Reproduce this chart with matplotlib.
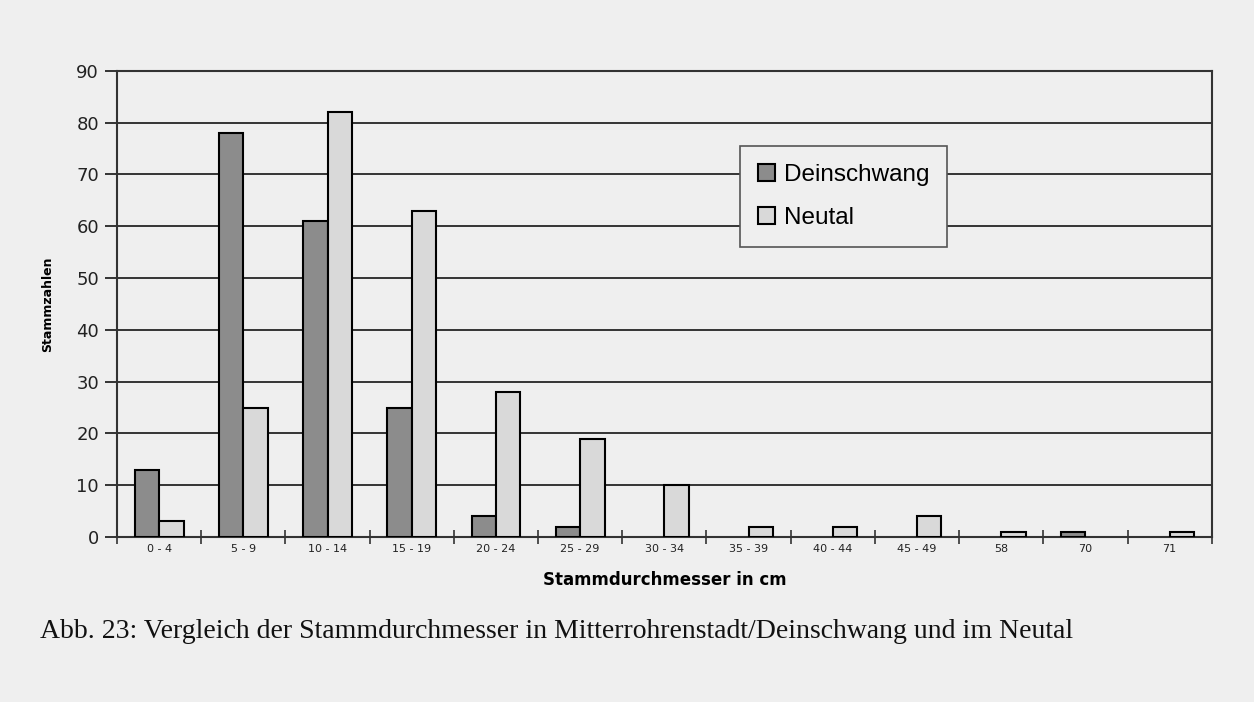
import matplotlib
matplotlib.use('Agg')
import matplotlib.pyplot as plt
import numpy as np

# Stammdurchmesser-Klassen (cm)
klassen = ['0 - 4', '5 - 9', '10 - 14', '15 - 19', '20 - 24', '25 - 29', '30 - 34',
           '35 - 39', '40 - 44', '45 - 49', '58', '70', '71']
deinschwang = [13, 78, 61, 25, 4, 2, 0, 0, 0, 0, 0, 1, 0]
neutal = [3, 25, 82, 63, 28, 19, 10, 2, 2, 4, 1, 0, 1]

titel = 'Abb. 23: Vergleich der Stammdurchmesser in Mitterrohrenstadt/Deinschwang und im Neutal'

bg = '#efefef'


def vergleich_chart():
    fig = plt.figure(figsize=(12.54, 7.02), dpi=100, facecolor=bg)
    ax = fig.add_axes([0.0933, 0.235, 0.873, 0.664], facecolor=bg)

    x = np.arange(len(klassen))
    w = 0.29
    # leere Klassen ohne Rahmen zeichnen
    lw_d = [1.5 if v > 0 else 0 for v in deinschwang]
    lw_n = [1.5 if v > 0 else 0 for v in neutal]
    ax.bar(x - w / 2, deinschwang, w, color='#8c8c8c', edgecolor='black',
           linewidth=lw_d, label='Deinschwang', zorder=3)
    ax.bar(x + w / 2, neutal, w, color='#d9d9d9', edgecolor='black',
           linewidth=lw_n, label='Neutal', zorder=3)

    ax.set_xlim(-0.5, len(klassen) - 0.5)
    ax.set_ylim(0, 90)
    ax.set_yticks(range(0, 91, 10))
    ax.yaxis.grid(True, color='#333333', linewidth=1.4, zorder=1)
    ax.set_axisbelow(True)

    ax.set_xticks(x)
    ax.set_xticklabels(klassen, fontsize=8, color='#222222')
    ax.set_xticks(np.arange(-0.5, len(klassen), 1), minor=True)
    ax.tick_params(axis='x', which='major', length=0, pad=5)
    ax.tick_params(axis='x', which='minor', length=10, direction='inout',
                   width=1.2, color='#333333')
    ax.tick_params(axis='y', length=9, width=1.4, color='#333333',
                   labelsize=13, pad=4, labelcolor='#222222')

    for s in ax.spines.values():
        s.set_color('#333333')
        s.set_linewidth(1.5)

    ax.set_ylabel('Stammzahlen', fontsize=9, fontweight='bold', labelpad=16)
    ax.set_xlabel('Stammdurchmesser in cm', fontsize=12, fontweight='bold', labelpad=12)

    leg = ax.legend(loc='upper left', bbox_to_anchor=(0.569, 0.839),
                    frameon=True, fancybox=False, edgecolor='#555555',
                    facecolor=bg, framealpha=1, handlelength=0.7, handleheight=0.7,
                    handletextpad=0.35, labelspacing=0.85, borderpad=0.75,
                    borderaxespad=0, prop={'family': 'Liberation Sans', 'size': 17.5})
    leg.get_frame().set_linewidth(1.2)

    fig.text(0.032, 0.1, titel, fontsize=20, family='Liberation Serif',
             color='#111111', va='center', ha='left')

    fig.savefig('out.png', dpi=100, facecolor=bg)


def main():
    vergleich_chart()


if __name__ == '__main__':
    main()
